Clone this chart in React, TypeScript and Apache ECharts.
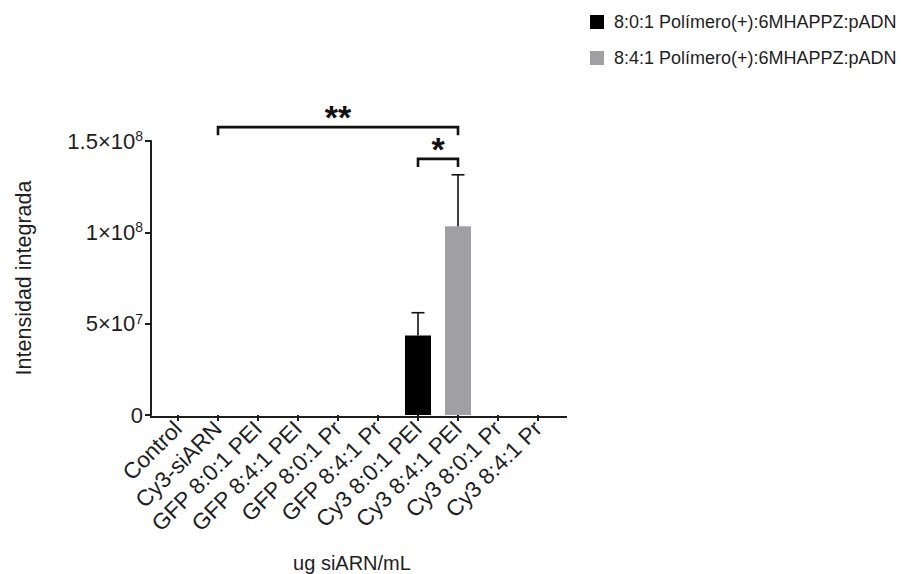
import React, { useEffect, useRef } from "react";
import * as echarts from "echarts";

// Categories on the x axis
const categories = [
  "Control",
  "Cy3-siARN",
  "GFP 8:0:1 PEI",
  "GFP 8:4:1 PEI",
  "GFP 8:0:1 Pr",
  "GFP 8:4:1 Pr",
  "Cy3 8:0:1 PEI",
  "Cy3 8:4:1 PEI",
  "Cy3 8:0:1 Pr",
  "Cy3 8:4:1 Pr",
];

const seriesNames = [
  "8:0:1 Polímero(+):6MHAPPZ:pADN",
  "8:4:1 Polímero(+):6MHAPPZ:pADN",
];

// Mean integrated intensity per category
const meanA = [0, 0, 0, null, 0, null, 4.35e7, null, 0, null];
const meanB = [null, null, null, 0, null, 0, null, 1.033e8, null, 0];
// Standard deviation (upper error bar)
const sdA = [0, 0, 0, null, 0, null, 1.25e7, null, 0, null];
const sdB = [null, null, null, 0, null, 0, null, 2.82e7, null, 0];

// Y ticks
const yTicks = [0, 5e7, 1e8, 1.5e8];
const yTickLabels = ["0", "5×10|7", "1×10|8", "1.5×10|8"];

// Significance brackets: [from category, to category, level, drop]
const brackets = [
  [1, 7, 1.576e8, 4.4e6],
  [6, 7, 1.402e8, 4.4e6],
];
const bracketLabels = ["**", "*"];

const colorA = "#000000";
const colorB = "#a09fa4";
const ink = "#1e1e1e";
const font = "Liberation Sans, Arial, sans-serif";

function errorData(means: (number | null)[], sds: (number | null)[]) {
  const out: number[][] = [];
  means.forEach((m, i) => {
    const s = sds[i];
    if (m !== null && s !== null && s > 0) out.push([i, m, s]);
  });
  return out;
}

export default function App() {
  const ref = useRef<HTMLDivElement>(null);

  useEffect(() => {
    if (!ref.current) return;
    const chart = echarts.init(ref.current, undefined, { renderer: "svg" });

    const gridLeft = 158;
    const gridTop = 141;
    const gridWidth = 400;
    const gridHeight = 276;
    const baseY = gridTop + gridHeight;

    const errItem = (params: any, api: any) => {
      const x = api.value(0);
      const m = api.value(1);
      const s = api.value(2);
      const p0 = api.coord([x, m]);
      const p1 = api.coord([x, m + s]);
      const half = 6.5;
      const st = { stroke: "#111", lineWidth: 1.6 };
      return {
        type: "group",
        children: [
          { type: "line", shape: { x1: p0[0], y1: p0[1], x2: p1[0], y2: p1[1] }, style: st },
          { type: "line", shape: { x1: p1[0] - half, y1: p1[1], x2: p1[0] + half, y2: p1[1] }, style: st },
        ],
      };
    };

    const bracketItem = (params: any, api: any) => {
      const a = api.value(0);
      const b = api.value(1);
      const lvl = api.value(2);
      const drop = api.value(3);
      const pl = api.coord([a, lvl]);
      const pr = api.coord([b, lvl]);
      const pd = api.coord([a, lvl - drop]);
      const st = { stroke: "#111", lineWidth: 2.6, fill: null };
      return {
        type: "group",
        children: [
          {
            type: "polyline",
            shape: {
              points: [
                [pl[0], pd[1]],
                [pl[0], pl[1]],
                [pr[0], pr[1]],
                [pr[0], pd[1]],
              ],
            },
            style: st,
          },
          {
            type: "text",
            x: (pl[0] + pr[0]) / 2,
            y: pl[1] - 10,
            style: {
              text: bracketLabels[params.dataIndex],
              fontSize: 34,
              fontWeight: "bold",
              fontFamily: font,
              fill: "#111",
              align: "center",
              verticalAlign: "middle",
            },
          },
        ],
      };
    };

    chart.setOption({
      animation: false,
      backgroundColor: "#ffffff",
      textStyle: { fontFamily: font },
      legend: {
        orient: "vertical",
        left: 585,
        top: 8,
        width: 316,
        itemWidth: 14,
        itemHeight: 14,
        itemGap: 18,
        icon: "rect",
        textStyle: { fontSize: 18, color: ink, fontFamily: font, padding: [0, 0, 0, 5], overflow: "none" },
        data: seriesNames,
      },
      grid: { left: gridLeft, top: gridTop, width: gridWidth, height: gridHeight },
      xAxis: {
        type: "category",
        data: categories,
        name: "ug siARN/mL",
        nameLocation: "middle",
        nameGap: 148,
        nameTextStyle: {
          fontSize: 20,
          color: ink,
          fontFamily: font,
          verticalAlign: "middle",
          padding: [0, 12, 0, 0],
        },
        axisLine: { show: false },
        axisTick: { show: true, alignWithLabel: true, length: 6, lineStyle: { color: ink, width: 2 } },
        axisLabel: {
          rotate: 45,
          interval: 0,
          margin: 10,
          fontSize: 22.5,
          color: ink,
          fontFamily: font,
        },
      },
      yAxis: {
        type: "value",
        min: 0,
        max: 1.5e8,
        interval: 5e7,
        offset: 7,
        name: "Intensidad integrada",
        nameLocation: "middle",
        nameGap: 116,
        nameTextStyle: { fontSize: 21.5, color: ink, fontFamily: font },
        splitLine: { show: false },
        axisLine: { show: true, lineStyle: { color: ink, width: 2 } },
        axisTick: { show: true, length: 6, lineStyle: { color: ink, width: 2 } },
        axisLabel: {
          margin: 8,
          color: ink,
          formatter: (v: number) => {
            const i = yTicks.indexOf(v);
            const lab = i >= 0 ? yTickLabels[i] : String(v);
            const parts = lab.split("|");
            return parts.length > 1 ? `{b|${parts[0]}}{s|${parts[1]}}` : `{b|${parts[0]}}`;
          },
          rich: {
            b: { fontSize: 22, color: ink, fontFamily: font, lineHeight: 24 },
            s: { fontSize: 14, color: ink, fontFamily: font, verticalAlign: "top", lineHeight: 24, padding: [0, 0, 9, 0] },
          },
        },
      },
      series: [
        {
          name: seriesNames[0],
          type: "bar",
          stack: "g",
          barWidth: 26,
          itemStyle: { color: colorA },
          data: meanA,
        },
        {
          name: seriesNames[1],
          type: "bar",
          stack: "g",
          barWidth: 26,
          itemStyle: { color: colorB },
          data: meanB,
        },
        {
          type: "custom",
          renderItem: errItem,
          encode: { x: 0, y: 1 },
          data: errorData(meanA, sdA).concat(errorData(meanB, sdB)),
          z: 5,
        },
        {
          type: "custom",
          renderItem: bracketItem,
          encode: { x: [0, 1], y: 2 },
          clip: false,
          data: brackets,
          z: 6,
        },
      ],
      graphic: [
        {
          // x-axis baseline, running slightly past the first and last bands
          type: "line",
          z: 10,
          shape: { x1: 150, y1: baseY, x2: 567, y2: baseY },
          style: { stroke: ink, lineWidth: 2 },
        },
      ],
    });

    return () => chart.dispose();
  }, []);

  return (
    <div
      ref={ref}
      style={{ position: "absolute", left: 0, top: 0, width: 901, height: 574 }}
    />
  );
}
